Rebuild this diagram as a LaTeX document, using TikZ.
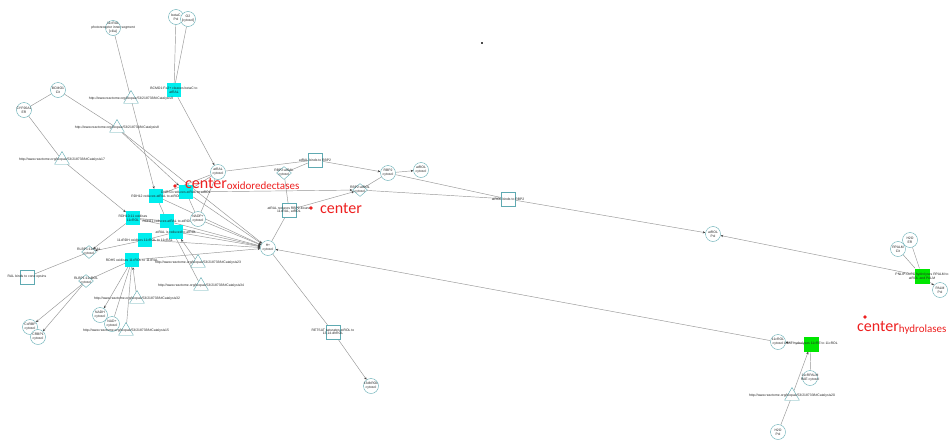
\documentclass[tikz,border=0pt]{standalone}
\usepackage{fontspec}
\setmainfont{Liberation Sans}
\newfontfamily\carl{Carlito}
\usetikzlibrary{shapes.geometric,arrows.meta,backgrounds}
\definecolor{tealc}{RGB}{95,170,178}
\definecolor{cyanf}{RGB}{0,238,238}
\definecolor{greenf}{RGB}{0,230,0}
\definecolor{linkc}{RGB}{150,150,150}
\definecolor{redc}{RGB}{238,32,32}
\newcommand\tinyf{\fontsize{3.4}{3.9}\selectfont}
\newcommand\ctrf{\carl\fontsize{16}{16}\selectfont}
\newcommand\subf{\carl\fontsize{11}{11}\selectfont}
\tikzset{
  circ/.style={circle, draw=tealc, line width=0.4pt, minimum size=15pt, inner sep=0pt, fill=white},
  csq/.style={rectangle, fill=cyanf, minimum size=14pt, inner sep=0pt},
  gsq/.style={rectangle, fill=greenf, minimum size=15pt, inner sep=0pt},
  osq/.style={rectangle, draw=tealc, line width=0.4pt, minimum size=14pt, inner sep=0pt},
  tri/.style={regular polygon, regular polygon sides=3, draw=tealc, line width=0.4pt, minimum size=17pt, inner sep=0pt},
  dia/.style={diamond, draw=tealc, line width=0.4pt, minimum width=15pt, minimum height=13pt, inner sep=0pt, fill=white},
  lab/.style={font=\tinyf, align=center, inner sep=0pt, text=black!85},
  link/.style={draw=linkc, line width=0.45pt},
  arr/.style={link, -{Stealth[length=2.6pt,width=2.2pt,color=black!75]}},
  rdot/.style={circle, fill=redc, minimum size=3.6pt, inner sep=0pt},
  ctr/.style={anchor=base west, inner sep=0pt, text=redc, font=\ctrf}
}
\begin{document}
\begin{tikzpicture}[x=1pt,y=-1pt]
\useasboundingbox (0,0) rectangle (950,442);

% ---- upper part: carotene cleavage
\node[circ, label={[lab]center:betaC\\Pol}] (betaC) at (176,17) {};
\node[circ, label={[lab]center:O2\\{[cytosol]}}] (O2) at (188,19) {};
\node[circ, label={[lab]center:11cRAL\\photoreceptor inner segment\\{[cilia]}}] (ssr) at (113,28) {};
\node[csq, label={[lab]center:BCMO1:Fe2+ cleaves betaC to\\atRAL}] (bcmo) at (174,90) {};
\node[tri, label={[lab]center:http://www.reactome.org/biopax/53/2187338\#Catalysis9}] (t9) at (131,99) {};
\node[tri, label={[lab]center:http://www.reactome.org/biopax/53/2187338\#Catalysis8}] (t8) at (117,128) {};
\node[circ, label={[lab]center:BCMO1\\Cit}] (bcit) at (58,90) {};
\node[circ, label={[lab]center:CYP26A1\\ER}] (cyp) at (24,110) {};
\node[tri, label={[lab]center:http://www.reactome.org/biopax/53/2187338\#Catalysis17}] (t17) at (62,160) {};

% ---- oxidoreductase cluster
\node[csq, label={[lab]center:RDH12 reduces atRAL to atROL}] (rdh12) at (156,196) {};
\node[csq, label={[lab]center:DHRS3 reduces atRAL to atROL}] (dhrs3) at (186,192) {};
\node[csq, label={[lab]center:RDH10:11 oxidises\\11cROL}] (rdh10) at (133,218) {};
\node[csq, label={[lab]center:RDH11 reduces atRAL to atROL}] (rdh11) at (167,221) {};
\node[csq, label={[lab]center:atRAL is reduced to atROL}] (sq5) at (176,232) {};
\node[csq, label={[lab]center:11cRDH oxidises 11cROL to 11cRAL}] (sq6) at (145,240) {};
\node[csq, label={[lab]center:RDH5 oxidises 11cROL to 11cRAL}] (sq7) at (132,260) {};
\node[circ, label={[lab]center:atRAL\\cytosol}] (atral) at (218,172) {};
\node[circ, label={[lab]center:NADP+\\cytosol}] (nadp) at (198,219) {};
\node[circ, label={[lab]center:H+\\cytosol}] (hplus) at (268,248) {};
\node[tri, label={[lab]center:http://www.reactome.org/biopax/53/2187338\#Catalysis23}] (t23) at (198,263) {};
\node[tri, label={[lab]center:http://www.reactome.org/biopax/53/2187338\#Catalysis34}] (t34) at (201,286) {};

% ---- RBP2 binding
\node[osq, label={[lab]center:atRAL binds to RBP2}] (sqb) at (315,160) {};
\node[dia, label={[lab]center:RBP2:atRAL\\cytosol}] (d1) at (284,173) {};
\node[osq, label={[lab]center:atRAL reduces RBP2-bound\\11cRAL, atROL}] (sqr) at (289,210) {};
\node[dia, label={[lab]center:RBP2:atROL\\cytosol}] (d2) at (360,190) {};
\node[circ, label={[lab]center:RBP2\\cytosol}] (rbp2) at (388,173) {};
\node[circ, label={[lab]center:atROL\\cytosol}] (atrol) at (421,170) {};
\node[osq, label={[lab]center:atROL binds to RBP2}] (sqrb) at (508,199) {};
\node[circ, label={[lab]center:atROL\\Pol}] (c713) at (713,234) {};
\node[osq, label={[lab]center:RETSAT saturates atROL to\\13,14-dhROL}] (retsat) at (333,332) {};
\node[circ, label={[lab]center:13dhROL\\cytosol}] (dhrol) at (371,386) {};

% ---- hydrolases
\node[circ, label={[lab]center:H2O\\ER}] (h2o) at (910,240) {};
\node[circ, label={[lab]center:RPALM\\Cit}] (rpalm) at (898,249) {};
\node[circ, label={[lab]center:PALM\\Pol}] (palm) at (940,290) {};
\node[gsq, label={[lab]center:PNLIP:CLPS hydrolyses RPALM to\\atROL and PALM}] (pnlip) at (922,276) {};
\node[circ, label={[lab]center:11cROL\\cytosol}] (c11crol) at (778,342) {};
\node[gsq, label={[lab]center:LRAT hydrolyses 11cRE to 11cROL}] (lrat) at (811,344) {};
\node[circ, label={[lab]center:11cRPALM\\RAE cytosol}] (c11rpalm) at (810,378) {};
\node[tri, label={[lab]center:http://www.reactome.org/biopax/53/2187338\#Catalysis20}] (t20) at (792,396) {};
\node[circ, label={[lab]center:H2O\\Pol}] (rbox) at (778,432) {};

% ---- lower left
\node[osq, label={[lab]center:RAL binds to cone opsins}] (ral) at (27,277) {};
\node[dia, label={[lab]center:RLBP1:11cRAL\\cytosol}] (d3) at (89,252) {};
\node[dia, label={[lab]center:RLBP1:11cROL\\cytosol}] (d4) at (86,281) {};
\node[circ, label={[lab]center:CoRBP\\cytosol}] (cl1) at (30,327) {};
\node[circ, label={[lab]center:CRBP1\\cytosol}] (cl2) at (38,337) {};
\node[circ, label={[lab]center:NADH\\cytosol}] (cl3) at (100,315) {};
\node[circ, label={[lab]center:NAD+\\cytosol}] (cl4) at (112,324) {};
\node[tri, label={[lab]center:http://www.reactome.org/biopax/53/2187338\#Catalysis32}] (t32) at (137,299) {};
\node[tri, label={[lab]center:http://www.reactome.org/biopax/53/2187338\#Catalysis15}] (t15) at (126,331) {};

\node[rectangle, fill=black!70, minimum size=2pt, inner sep=0pt] (spot) at (482,43) {};

% ---- red centre marks
\node[rdot] (dotA) at (175,186) {};
\node[ctr] (cenA) at (185,188) {center{\subf\raisebox{-1pt}{oxidoredectases}}};
\node[rdot] (dotB) at (311,208) {};
\node[ctr] (cenB) at (320,213) {center};
\node[rdot] (dotC) at (865,317) {};
\node[ctr] (cenC) at (857,331) {center{\subf\raisebox{-1pt}{hydrolases}}};

% ---- white ground and connectors, behind the nodes
\begin{pgfonlayer}{background}
\fill[white] (0,0) rectangle (950,442);
\draw[link] (betaC) -- (bcmo);
\draw[link] (O2) -- (bcmo);
\draw[arr] (bcmo) -- (atral);
\draw[link] (ssr) -- (t9);
\draw[arr] (t9) -- (rdh12);
\draw[link] (bcit) -- (t8);
\draw[link] (bcit) -- (cyp);
\draw[arr] (t8) -- (dhrs3);
\draw[arr] (t8) -- (hplus);
\draw[link] (cyp) -- (t17);
\draw[arr] (t17) -- (rdh10);
\draw[link] (atral) -- (rdh12);
\draw[link] (atral) -- (dhrs3);
\draw[link] (atral) -- (nadp);
\draw[link] (dhrs3) -- (nadp);
\draw[link] (atral) -- (sqb);
\draw[link] (sqb) -- (d1);
\draw[arr] (sqb) -- (rbp2);
\draw[link] (d1) -- (sqr);
\draw[arr] (sqr) -- (d2);
\draw[link] (hplus) -- (sqr);
\draw[arr] (dhrs3) -- (d2);
\draw[link] (d2) -- (rbp2);
\draw[arr] (rbp2) -- (atrol);
\draw[link] (rbp2) -- (sqrb);
\draw[link] (d2) -- (sqrb);
\draw[arr] (sqrb) -- (c713);
\draw[arr] (pnlip) -- (c713);
\draw[link] (h2o) -- (pnlip);
\draw[link] (rpalm) -- (pnlip);
\draw[arr] (pnlip) -- (palm);
\draw[arr] (c11crol) -- (hplus);
\draw[arr] (lrat) -- (c11crol);
\draw[link] (lrat) -- (c11rpalm);
\draw[arr] (t20) -- (lrat);
\draw[link] (rbox) -- (t20);
\draw[link] (hplus) -- (retsat);
\draw[arr] (retsat) -- (dhrol);
\foreach \s in {rdh12,dhrs3,rdh10,rdh11,sq5,sq6,sq7,nadp}
  \draw[arr] (\s) -- (hplus);
\draw[link] (rdh10) -- (rdh11);
\draw[link] (rdh12) -- (rdh11);
\draw[link] (sq6) -- (sq5);
\draw[arr] (t23) -- (sq5);
\draw[arr] (t34) -- (rdh11);
\draw[link] (ral) -- (d3);
\draw[arr] (rdh10) -- (d3);
\draw[arr] (sq6) -- (d3);
\draw[link] (d4) -- (sq7);
\draw[arr] (d4) -- (cl1);
\draw[arr] (d4) -- (cl2);
\draw[arr] (sq7) -- (cl3);
\draw[link] (sq7) -- (cl4);
\draw[link] (sq7) -- (t15);
\draw[arr] (t32) -- (sq7);
\end{pgfonlayer}
\end{tikzpicture}
\end{document}
